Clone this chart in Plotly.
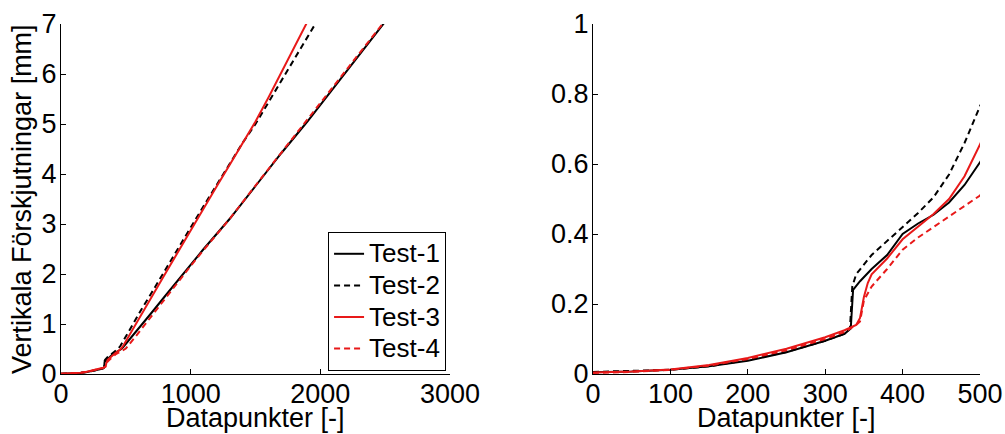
import plotly.graph_objects as go
from plotly.subplots import make_subplots

# ---- data ----
x_t1 = [0, 50, 100, 150, 200, 250, 300, 325, 333, 336, 345, 360, 380, 400, 420, 440, 460, 480, 500,
        560, 620, 700, 800, 900, 1000, 1100, 1200, 1300, 1500, 1700, 1900, 2100, 2300, 2500, 2600]
y_t1 = [0.005, 0.007, 0.012, 0.022, 0.038, 0.062, 0.095, 0.115, 0.13, 0.24, 0.265, 0.30, 0.34, 0.40, 0.43, 0.455, 0.49, 0.54, 0.605,
        0.79, 0.98, 1.23, 1.55, 1.87, 2.18, 2.50, 2.80, 3.10, 3.76, 4.42, 5.05, 5.72, 6.38, 7.05, 7.38]

x_t2 = [0, 50, 100, 150, 200, 250, 300, 325, 332, 335, 340, 360, 380, 400, 420, 440, 460, 480, 500,
        560, 620, 700, 800, 900, 1000, 1100, 1200, 1300, 1400, 1500, 1600, 1700, 1800, 1900, 2000]
y_t2 = [0.006, 0.008, 0.012, 0.022, 0.040, 0.063, 0.095, 0.115, 0.13, 0.25, 0.285, 0.34, 0.38, 0.42, 0.46, 0.505, 0.57, 0.66, 0.765,
        1.02, 1.29, 1.63, 2.07, 2.50, 2.93, 3.36, 3.78, 4.20, 4.62, 5.00, 5.43, 5.86, 6.29, 6.73, 7.17]

x_t3 = [0, 50, 100, 150, 200, 250, 300, 325, 340, 345, 350, 355, 360, 380, 400, 420, 440, 460, 480, 500,
        560, 620, 700, 800, 900, 1000, 1100, 1200, 1300, 1400, 1500, 1600, 1700, 1800, 1900, 2000]
y_t3 = [0.004, 0.007, 0.013, 0.026, 0.046, 0.072, 0.105, 0.125, 0.14, 0.16, 0.22, 0.26, 0.285, 0.33, 0.385, 0.42, 0.457, 0.50, 0.565, 0.656,
        0.93, 1.20, 1.55, 1.99, 2.43, 2.88, 3.32, 3.75, 4.18, 4.62, 5.05, 5.53, 6.04, 6.58, 7.08, 7.55]

x_t4 = [0, 50, 100, 150, 200, 250, 300, 325, 340, 345, 350, 360, 380, 400, 420, 440, 460, 480, 500,
        560, 620, 700, 800, 900, 1000, 1100, 1200, 1300, 1500, 1700, 1900, 2100, 2300, 2500, 2600]
y_t4 = [0.003, 0.006, 0.012, 0.024, 0.043, 0.068, 0.10, 0.12, 0.14, 0.15, 0.21, 0.25, 0.30, 0.355, 0.39, 0.42, 0.45, 0.48, 0.51,
        0.70, 0.90, 1.17, 1.50, 1.84, 2.16, 2.48, 2.79, 3.10, 3.77, 4.43, 5.07, 5.74, 6.40, 7.06, 7.40]

series_names = ["Test-1", "Test-2", "Test-3", "Test-4"]
xs = [x_t1, x_t2, x_t3, x_t4]
ys = [y_t1, y_t2, y_t3, y_t4]
RED = "#e81919"
colors = ["black", "black", RED, RED]
dashes = ["solid", "6px,4px", "solid", "6px,4px"]

x_title = "Datapunkter [-]"
y_title = "Vertikala Förskjutningar [mm]"
left_xticks = [0, 1000, 2000, 3000]
left_yticks = [0, 1, 2, 3, 4, 5, 6, 7]
right_xticks = [0, 100, 200, 300, 400, 500]
right_yticks = [0, 0.2, 0.4, 0.6, 0.8, 1]
right_ylabels = ["0", "0.2", "0.4", "0.6", "0.8", "1"]

FONT = "Liberation Sans, Arial, sans-serif"
FS = 27

fig = make_subplots(rows=1, cols=2, horizontal_spacing=0.1556)

for name, x, y, c, d in zip(series_names, xs, ys, colors, dashes):
    fig.add_trace(go.Scatter(x=x, y=y, mode="lines",
                             name='<span style="font-size:26px">' + name + '</span>',
                             line=dict(color=c, width=2, dash=d),
                             showlegend=True), row=1, col=1)
    fig.add_trace(go.Scatter(x=x, y=y, mode="lines", name=name,
                             line=dict(color=c, width=2, dash=d),
                             showlegend=False), row=1, col=2)

axis_common = dict(showline=True, linecolor="black", linewidth=1, mirror=False,
                   ticks="inside", ticklen=5, tickwidth=1, tickcolor="black",
                   showgrid=False, zeroline=False, automargin=False,
                   tickfont=dict(family=FONT, size=FS, color="black"))

fig.update_xaxes(domain=[0, 0.4233], range=[0, 3000], tickvals=left_xticks,
                 ticklabelstandoff=-4, **axis_common, row=1, col=1)
fig.update_yaxes(range=[0, 7], tickvals=left_yticks, ticklabelstandoff=-2,
                 **axis_common, row=1, col=1)
fig.update_xaxes(domain=[0.5789, 1], range=[0, 500], tickvals=right_xticks,
                 ticklabelstandoff=-4, **axis_common, row=1, col=2)
fig.update_yaxes(range=[0, 1], tickvals=right_yticks, ticktext=right_ylabels,
                 ticklabelstandoff=-2, **axis_common, row=1, col=2)

title_font = dict(family=FONT, size=FS, color="black")
fig.add_annotation(text=x_title, xref="paper", yref="paper", x=0.2117, y=-0.1243,
                   xanchor="center", yanchor="middle", showarrow=False, font=title_font)
fig.add_annotation(text=x_title, xref="paper", yref="paper", x=0.7894, y=-0.1243,
                   xanchor="center", yanchor="middle", showarrow=False, font=title_font)
fig.add_annotation(text=y_title, xref="paper", yref="paper", x=0, y=0.5, xshift=-39,
                   xanchor="center", yanchor="middle", textangle=-90, showarrow=False,
                   font=title_font)

fig.update_layout(
    width=1005, height=434,
    margin=dict(l=61, r=25, t=24, b=60),
    paper_bgcolor="white", plot_bgcolor="white",
    font=dict(family=FONT, size=FS, color="black"),
    legend=dict(x=0.419, y=0.0086, xanchor="right", yanchor="bottom",
                bgcolor="white", bordercolor="black", borderwidth=1,
                font=dict(family=FONT, size=22, color="black"),
                tracegroupgap=0, itemwidth=30),
)

fig.write_html("out.html", config={"displayModeBar": False},
               post_script="document.body.style.margin='0px';document.body.style.overflow='hidden';")
